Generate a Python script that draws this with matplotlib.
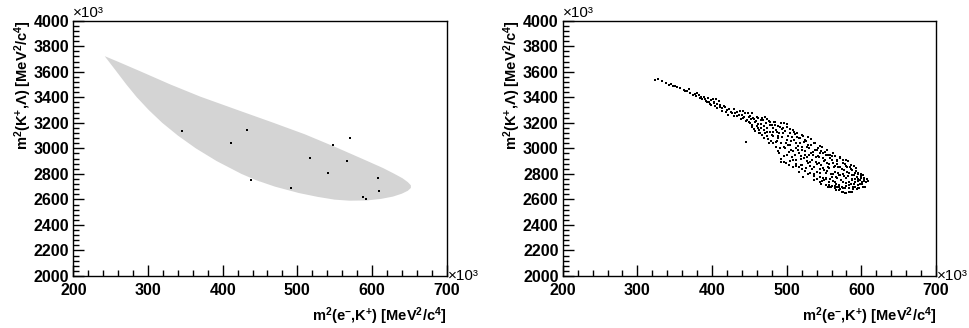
import numpy as np
import matplotlib
matplotlib.use("Agg")
import matplotlib.pyplot as plt
from matplotlib.ticker import MultipleLocator

plt.rcParams['font.family'] = ['Liberation Sans', 'DejaVu Sans']
plt.rcParams['mathtext.fontset'] = 'custom'
plt.rcParams['mathtext.rm'] = 'Liberation Sans:bold'
plt.rcParams['mathtext.it'] = 'Liberation Sans:bold'
plt.rcParams['mathtext.bf'] = 'Liberation Sans:bold'
plt.rcParams['mathtext.default'] = 'rm'

# ---- left panel: phase-space region (outline), x10^3
region_x = [242, 260, 289, 330, 370, 420, 468, 510, 553, 590, 615, 630, 641, 648, 652,
            652, 648, 640, 628, 612, 593, 570, 550, 527, 502, 470, 445, 425,
            392, 364, 340, 319, 301, 285, 271, 258, 242]
region_y = [3722, 3678, 3605, 3500, 3405, 3300, 3200, 3110, 3005, 2910, 2845, 2800, 2765, 2735, 2710,
            2690, 2668, 2645, 2622, 2604, 2592, 2590, 2598, 2620, 2650, 2700, 2750, 2800,
            2900, 3000, 3100, 3200, 3300, 3400, 3500, 3600, 3722]

# few dark entries on top of the region
dark_x = [345, 433, 411, 517, 548, 570, 567, 541, 608, 609, 588, 592, 438, 492]
dark_y = [3136, 3144, 3039, 2927, 3026, 3078, 2901, 2804, 2765, 2666, 2621, 2601, 2752, 2692]

# ---- right panel: selected events, x10^3
evt_x = [324, 328, 339, 345, 348, 353, 357, 362, 366, 371, 377, 379, 382, 385, 387, 389,
         392, 394, 396, 397, 399, 402, 404, 405, 407, 410, 413, 417, 420, 422, 425, 429,
         431, 433, 437, 440, 442, 444, 445, 446, 449, 451, 453, 454, 456, 458, 460, 462,
         463, 465, 466, 469, 471, 472, 474, 476, 478, 480, 481, 483, 485, 487, 488, 490,
         491, 492, 493, 495, 496, 498, 499, 500, 501, 503, 504, 505, 507, 508, 509, 510,
         512, 513, 514, 516, 517, 518, 519, 520, 521, 522, 523, 525, 526, 527, 528, 529,
         530, 531, 533, 534, 535, 536, 537, 538, 539, 540, 542, 543, 544, 545, 547, 548,
         549, 550, 551, 552, 554, 555, 556, 557, 558, 559, 560, 562, 562, 564, 565, 566,
         567, 568, 569, 570, 571, 572, 574, 575, 576, 577, 578, 579, 580, 581, 583, 584,
         585, 586, 587, 588, 589, 590, 591, 593, 594, 595, 596, 598, 600, 601, 603, 606,
         609,
         452, 457, 461, 464, 467, 470, 473, 476, 479, 482, 484, 486, 489, 491, 494, 497,
         499, 502, 504, 506, 509, 511, 513, 515, 517, 519, 521, 523, 525, 527, 529, 531,
         533, 536, 538, 540, 542, 544, 546, 548, 550, 552, 554, 556, 558, 560, 562, 564,
         566, 568, 570, 572, 574, 576, 578, 580, 582, 584, 586, 588, 590, 592, 594, 596,
         598, 600, 602, 604, 576, 580, 572, 565, 558, 552, 546, 588, 596,
         333, 342, 351, 364, 369, 375, 380, 384, 390, 393, 398, 401, 403, 406, 409, 411,
         414, 416, 419, 423, 427, 430, 434, 436, 439, 441, 443, 447, 448,
         450, 451, 453, 455, 456, 459, 460, 462, 463, 465, 467, 468, 470, 471, 473, 474,
         475, 477, 478, 480, 481, 482, 484, 485, 487, 488, 489, 490, 492, 493, 494, 495,
         496, 497, 498, 500, 501, 502, 503, 505, 506, 507, 508, 510, 511, 512, 513, 514,
         515, 516, 518, 519, 520, 521, 522, 524, 525, 526, 527, 528, 530, 531, 532, 534,
         535, 536, 537, 539, 540, 541, 543, 544, 545, 546, 547, 549, 550, 551, 553, 554,
         555, 557, 558, 559, 561, 562, 563, 564, 566, 567, 568, 569, 570, 571, 573, 574,
         575, 576, 577, 578, 579, 580, 581, 582, 583, 584, 585, 586, 587, 589, 590, 591,
         592, 593, 595, 596, 597, 599, 601, 602, 604, 605, 607, 555, 560, 565, 570, 552, 544]
evt_y = [3535, 3540, 3514, 3504, 3488, 3478, 3470, 3457, 3452, 3436, 3426, 3410, 3418, 3400, 3386, 3405,
         3373, 3392, 3366, 3347, 3379, 3352, 3332, 3384, 3347, 3326, 3313, 3321, 3300, 3261, 3287, 3305,
         3274, 3253, 3295, 3261, 3235, 3274, 3217, 3052, 3248, 3196, 3274, 3170, 3227, 3138, 3248, 3191,
         3117, 3222, 3157, 3078, 3243, 3196, 3130, 3039, 3183, 3104, 3157, 3209, 3013, 3130, 3078, 2961,
         3170, 2896, 3039, 3117, 3196, 3000, 2883, 3065, 3165, 2974, 3026, 3117, 2935, 2857, 3144, 3065,
         3000, 2909, 3091, 2961, 2817, 3039, 2870, 3104, 2987, 2778, 2922, 3065, 2843, 3013, 2883, 3091,
         2948, 2804, 3026, 2909, 2974, 2752, 2857, 3039, 2935, 2817, 3000, 2883, 2961, 2778, 3013, 2843,
         2922, 2752, 2974, 2804, 2883, 2948, 2739, 2843, 2922, 2700, 2778, 2883, 2961, 2739, 2817, 2674,
         2909, 2765, 2857, 2713, 2935, 2791, 2661, 2883, 2739, 2830, 2687, 2909, 2765, 2857, 2713, 2804,
         2661, 2870, 2752, 2830, 2700, 2791, 2739, 2843, 2778, 2713, 2804, 2752, 2783, 2739, 2765, 2739,
         2744,
         3230, 3205, 3160, 3120, 3240, 3140, 3100, 3215, 3060, 3130, 3180, 3050, 3100, 3000, 3150, 2940,
         3040, 3100, 2900, 3060, 2980, 3110, 2860, 3020, 3080, 2940, 2840, 3050, 2980, 2900, 3030, 2860,
         2960, 2800, 2990, 2880, 2940, 2840, 2980, 2770, 2900, 2950, 2820, 2880, 2760, 2940, 2800, 2860,
         2720, 2900, 2790, 2850, 2700, 2800, 2880, 2730, 2780, 2690, 2840, 2760, 2720, 2810, 2680, 2760,
         2720, 2800, 2700, 2760, 2660, 2650, 2680, 2690, 2700, 2710, 2720, 2660, 2690,
         3528, 3497, 3490, 3447, 3462, 3418, 3432, 3392, 3388, 3360, 3342, 3390, 3362, 3318, 3372, 3340,
         3296, 3335, 3282, 3310, 3276, 3250, 3285, 3262, 3232, 3290, 3248, 3225, 3280,
         3208, 3256, 3185, 3240, 3150, 3212, 3178, 3235, 3145, 3190, 3108, 3222, 3172, 3120, 3230, 3160,
         3075, 3205, 3130, 3182, 3040, 3100, 3210, 3145, 3060, 3175, 2980, 3120, 3195, 2920, 3085, 3160,
         3010, 2890, 3135, 2950, 3190, 3030, 2870, 3150, 2990, 3090, 2910, 3130, 2950, 3040, 2880, 3120,
         2990, 2850, 3080, 2915, 3010, 2870, 3100, 2950, 2820, 3060, 2935, 2800, 3005, 2895, 3070, 2840,
         2945, 3040, 2780, 2895, 2990, 2760, 2930, 2805, 3020, 2870, 2745, 2960, 2830, 2905, 2770, 2990,
         2855, 2715, 2950, 2800, 2905, 2745, 2850, 2940, 2775, 2700, 2880, 2810, 2670, 2925, 2755, 2840,
         2690, 2905, 2780, 2650, 2860, 2705, 2815, 2900, 2740, 2660, 2850, 2720, 2790, 2680, 2860, 2760,
         2700, 2825, 2745, 2800, 2690, 2770, 2720, 2790, 2745, 2700, 2760, 2700, 2705, 2702, 2700, 2760, 2740]

x_ticks = [200, 300, 400, 500, 600, 700]
y_ticks = [2000, 2200, 2400, 2600, 2800, 3000, 3200, 3400, 3600, 3800, 4000]

xlab = r'm$^{2}$(e$^{-}$,K$^{+}$) [MeV$^{2}$/c$^{4}$]'
ylab = r'm$^{2}$(K$^{+}$,Λ) [MeV$^{2}$/c$^{4}$]'

fig = plt.figure(figsize=(9.69, 3.28), dpi=100)
ax1 = fig.add_axes([0.0757, 0.1585, 0.3853, 0.7785])
ax2 = fig.add_axes([0.5807, 0.1585, 0.3853, 0.7785])

ax1.fill(region_x, region_y, facecolor='#d4d4d4', edgecolor='none')
ax1.scatter(dark_x, dark_y, s=3, marker='s', color='black', linewidths=0)
ax2.scatter(evt_x, evt_y, s=4, marker='s', color='black', linewidths=0)

for ax in (ax1, ax2):
    ax.set_xlim(200, 700)
    ax.set_ylim(2000, 4000)
    ax.set_xticks(x_ticks)
    ax.set_yticks(y_ticks)
    ax.xaxis.set_minor_locator(MultipleLocator(20))
    ax.yaxis.set_minor_locator(MultipleLocator(40))
    ax.tick_params(which='both', direction='in', top=False, right=False, width=1)
    ax.tick_params(which='major', length=8, labelsize=11.5)
    ax.tick_params(which='minor', length=4)
    ax.tick_params(axis='x', which='major', pad=5)
    ax.tick_params(axis='y', which='major', pad=3)
    for lab in ax.get_xticklabels() + ax.get_yticklabels():
        lab.set_fontweight('bold')
    for sp in ax.spines.values():
        sp.set_linewidth(1)
    ax.set_xlabel(xlab, fontsize=10.5, fontweight='bold', loc='right')
    ax.set_ylabel(ylab, fontsize=10.5, fontweight='bold', loc='top')
    ax.xaxis.set_label_coords(1.0, -0.115)
    ax.yaxis.set_label_coords(-0.105, 1.0)
    ax.text(0.0, 1.003, '×10³', transform=ax.transAxes, fontsize=11,
            ha='left', va='bottom')
    ax.text(1.003, 0.0, '×10³', transform=ax.transAxes, fontsize=11,
            ha='left', va='center')

fig.savefig('out.png', dpi=100)
